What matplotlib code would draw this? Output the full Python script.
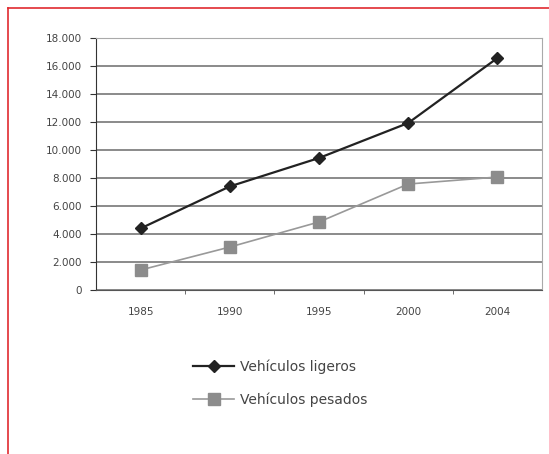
import matplotlib.pyplot as plt
from matplotlib.lines import Line2D

# Datos
anios = ['1985', '1990', '1995', '2000', '2004']
ligeros = [4400, 7400, 9430, 11930, 16570]
pesados = [1430, 3070, 4860, 7570, 8070]
yticks = list(range(0, 18001, 2000))

fig = plt.figure(figsize=(5.49, 4.54), dpi=100)
ax = fig.add_axes([0.1749, 0.3612, 0.8124, 0.5551])

x = list(range(len(anios)))
ax.plot(x, ligeros, '-', color='#222222', lw=1.6, marker='D', ms=6,
        mfc='#222222', mec='#222222', label='Vehículos ligeros', zorder=3)
ax.plot(x, pesados, '-', color='#999999', lw=1.2, marker='s', ms=9,
        mfc='#8c8c8c', mec='#8c8c8c', label='Vehículos pesados', zorder=3)

ax.set_xlim(-0.5, len(anios) - 0.5)
ax.set_ylim(0, 18000)
ax.set_yticks(yticks)
ax.set_yticklabels([f'{v:,}'.replace(',', '.') for v in yticks])
ax.set_xticks(x)
ax.set_xticklabels(anios)
ax.set_xticks([i + 0.5 for i in range(len(anios) - 1)], minor=True)

ax.yaxis.grid(True, color='#777777', lw=1.2)
ax.set_axisbelow(True)
ax.tick_params(axis='x', which='major', length=0, pad=12, labelsize=7.5, colors='#444444')
ax.tick_params(axis='x', which='minor', length=3, color='#555555')
ax.tick_params(axis='y', length=4, labelsize=7.5, colors='#444444', pad=6)
ax.tick_params(axis='y', color='#333333')

for lado in ['top', 'right']:
    ax.spines[lado].set_color('#aaaaaa')
ax.spines['left'].set_color('#333333')
ax.spines['bottom'].set_color('#555555')

fig.legend(loc='center', bbox_to_anchor=(0.51, 0.156), frameon=False,
           fontsize=10, labelcolor='#444444', handlelength=3, labelspacing=1.3,
           handletextpad=0.4)

# marco rojo
fig.add_artist(Line2D([0.0146, 1.0], [0.982, 0.982], color='#e02a30', lw=1.2))
fig.add_artist(Line2D([0.0146, 0.0146], [0.0, 0.982], color='#e02a30', lw=1.2))

fig.savefig('out.png', dpi=100)
